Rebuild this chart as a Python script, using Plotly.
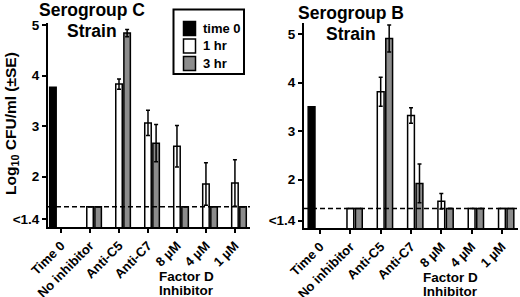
import plotly.graph_objects as go

categories = ["Time 0", "No inhibitor", "Anti-C5", "Anti-C7", "8 µM", "4 µM", "1 µM"]
series_names = ["time 0", "1 hr", "3 hr"]
series_colors = ["black", "white", "#8c8c8c"]

# Serogroup C strain
c_time0 = [3.77, None, None, None, None, None, None]
c_1hr = [None, 1.4, 3.83, 3.06, 2.60, 1.85, 1.87]
c_1hr_se = [0, 0, 0.10, 0.25, 0.41, 0.42, 0.46]
c_3hr = [None, 1.4, 4.84, 2.66, 1.4, 1.4, 1.4]
c_3hr_se = [0, 0, 0.07, 0.37, 0, 0, 0]

# Serogroup B strain
b_time0 = [3.50, None, None, None, None, None, None]
b_1hr = [None, 1.4, 3.81, 3.32, 1.55, 1.4, 1.4]
b_1hr_se = [0, 0, 0.30, 0.16, 0.16, 0, 0]
b_3hr = [None, 1.4, 4.91, 1.92, 1.4, 1.4, 1.4]
b_3hr_se = [0, 0, 0.28, 0.40, 0, 0, 0]

detection_limit = 1.4
ytickvals = [1.15, 2, 3, 4, 5]
yticktext = ["<1.4", "2", "3", "4", "5"]

FONT = "Liberation Sans"
W, H = 520, 297


def px(x):
    return x / W


def py(y):
    return 1 - y / H


fig = go.Figure()

panels = [
    ("x", "y", [c_time0, c_1hr, c_3hr], [None, c_1hr_se, c_3hr_se]),
    ("x2", "y2", [b_time0, b_1hr, b_3hr], [None, b_1hr_se, b_3hr_se]),
]
for xa, ya, vals, ses in panels:
    for name, color, v, se in zip(series_names, series_colors, vals, ses):
        kw = {}
        if se is not None:
            kw["error_y"] = dict(type="data", array=se, visible=True,
                                 color="black", thickness=1.5, width=2)
        fig.add_trace(go.Bar(
            x=categories, y=v, name=name, xaxis=xa, yaxis=ya,
            marker=dict(color=color, line=dict(color="black", width=1.5)),
            showlegend=False, **kw))

axis_common = dict(showline=True, linecolor="black", linewidth=2,
                   ticks="outside", ticklen=4, tickwidth=2, tickcolor="black",
                   showgrid=False, zeroline=False, automargin=False)
ytickfont = dict(family=FONT, size=13.5, color="black", weight="bold")
xtickfont = dict(family=FONT, size=13, color="black", weight="bold")

fig.update_layout(
    width=W, height=H,
    margin=dict(l=0, r=0, t=0, b=0),
    paper_bgcolor="white", plot_bgcolor="white",
    barmode="group", bargap=0.16, bargroupgap=0.2,
    xaxis=dict(domain=[px(48), px(250)], anchor="y", type="category",
               range=[-0.45, 6.52], tickangle=-45, tickfont=xtickfont, **axis_common),
    xaxis2=dict(domain=[px(304), px(518)], anchor="y2", type="category",
                range=[-0.53, 6.53], tickangle=-45, tickfont=xtickfont, **axis_common),
    yaxis=dict(domain=[py(227), py(23)], anchor="x", range=[1.0, 5.04],
               tickvals=ytickvals, ticktext=yticktext, tickfont=ytickfont, **axis_common),
    yaxis2=dict(domain=[py(228), py(23)], anchor="x2", range=[1.0, 5.23],
                tickvals=ytickvals, ticktext=yticktext, tickfont=ytickfont, **axis_common),
    font=dict(family=FONT, color="black"),
    showlegend=False,
)

# detection limit lines
for xa, ya in [("x", "y"), ("x2", "y2")]:
    fig.add_shape(type="line", xref=f"{xa} domain", yref=ya, x0=0, x1=1,
                  y0=detection_limit, y1=detection_limit,
                  line=dict(color="black", width=1.5, dash="5px,3px"))

# legend box (drawn manually to match the original compact layout)
fig.add_shape(type="rect", xref="paper", yref="paper",
              x0=px(173.5), x1=px(244), y0=py(74), y1=py(9.5),
              line=dict(color="black", width=2), fillcolor="white", layer="above")
leg_rows = [28.5, 46, 63.5]
for name, color, yc in zip(series_names, series_colors, leg_rows):
    fig.add_shape(type="rect", xref="paper", yref="paper",
                  x0=px(183.5), x1=px(195.5), y0=py(yc + 7), y1=py(yc - 7),
                  line=dict(color="black", width=1.5), fillcolor=color, layer="above")
    fig.add_annotation(text=name, x=px(200.5), y=py(yc), xref="paper", yref="paper",
                       xanchor="left", yanchor="middle", showarrow=False,
                       font=dict(family=FONT, size=13, color="black", weight="bold"))

ann_font = dict(family=FONT, size=17.5, color="black", weight="bold")
for line, xc, yc in [("Serogroup C", 92, 10), ("Strain", 92, 31),
                     ("Serogroup B", 351, 13), ("Strain", 351, 34)]:
    fig.add_annotation(text=line, x=px(xc), y=py(yc), xref="paper", yref="paper",
                       xanchor="center", yanchor="middle", showarrow=False,
                       font=ann_font)

fig.add_annotation(text="Log<sub>10</sub> CFU/ml (±SE)", x=px(11), y=py(124),
                   xref="paper", yref="paper", xanchor="center", yanchor="middle",
                   textangle=-90, showarrow=False,
                   font=dict(family=FONT, size=15.5, color="black", weight="bold"))
fd_font = dict(family=FONT, size=13.5, color="black", weight="bold")
for line, xc, yc in [("Factor D", 186, 276), ("Inhibitor", 186, 290),
                     ("Factor D", 450, 277), ("Inhibitor", 450, 291)]:
    fig.add_annotation(text=line, x=px(xc), y=py(yc), xref="paper", yref="paper",
                       xanchor="center", yanchor="middle", showarrow=False,
                       font=fd_font)

fig.write_html("out.html", config={"displayModeBar": False},
               post_script="document.body.style.margin='0';")
